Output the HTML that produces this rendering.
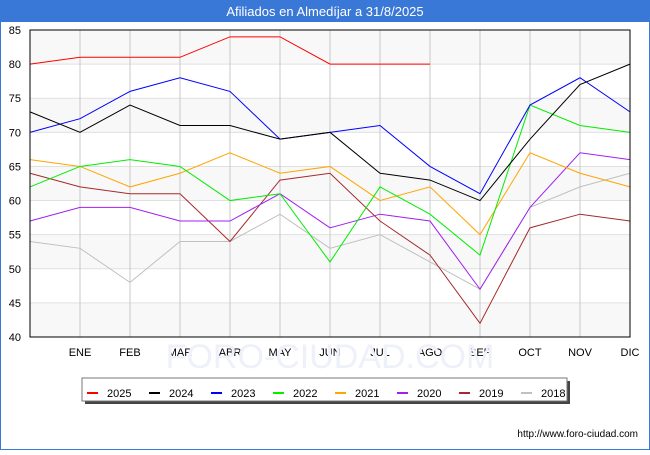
<!DOCTYPE html>
<html><head><meta charset="utf-8"><style>
body{margin:0;width:650px;height:450px;background:#fff;font-family:"Liberation Sans","DejaVu Sans",sans-serif;overflow:hidden}
</style></head><body>
<svg id="c" width="650" height="450" xmlns="http://www.w3.org/2000/svg">
<rect x="0" y="0" width="650" height="450" fill="#fff" stroke="#3a78d8" stroke-width="2"/>
<rect x="0" y="0" width="650" height="22" fill="#3a78d8"/>
<text x="325" y="16" text-anchor="middle" fill="#fff" font-size="13">Afiliados en Almedíjar a 31/8/2025</text>
<g id="plot"></g>
<text x="638" y="437" text-anchor="end" font-size="10" fill="#000">http://www.foro-ciudad.com</text>
</svg>
<script>
const months=["","ENE","FEB","MAR","ABR","MAY","JUN","JUL","AGO","SEP","OCT","NOV","DIC"];
const yTicks=[40,45,50,55,60,65,70,75,80,85];
const years=["2025","2024","2023","2022","2021","2020","2019","2018"];
const colors=["#ff0000","#000000","#0000ff","#00ee00","#ffa500","#a020f0","#a52a2a","#c0c0c0"];
const s2025=[80,81,81,81,84,84,80,80,80];
const s2024=[73,70,74,71,71,69,70,64,63,60,69,77,80];
const s2023=[70,72,76,78,76,69,70,71,65,61,74,78,73];
const s2022=[62,65,66,65,60,61,51,62,58,52,74,71,70];
const s2021=[66,65,62,64,67,64,65,60,62,55,67,64,62];
const s2020=[57,59,59,57,57,61,56,58,57,47,59,67,66];
const s2019=[64,62,61,61,54,63,64,57,52,42,56,58,57];
const s2018=[54,53,48,54,54,58,53,55,51,47,59,62,64];
const series=[s2025,s2024,s2023,s2022,s2021,s2020,s2019,s2018];
const NS="http://www.w3.org/2000/svg";
const L=30,R=630,T=30,B=337,ymin=40,ymax=85;
const X=i=>L+(R-L)*i/(months.length-1);
const Y=v=>B-(v-ymin)/(ymax-ymin)*(B-T);
const g=document.getElementById('plot');
function mk(t,a){const e=document.createElementNS(NS,t);for(const k in a)e.setAttribute(k,a[k]);g.appendChild(e);return e;}
for(let i=0;i<yTicks.length-1;i++){
  if((yTicks.length-2-i)%2===0){const r=mk('rect',{x:L,y:Y(yTicks[i+1]),width:R-L,height:Y(yTicks[i])-Y(yTicks[i+1]),fill:'#f8f8f8'});
  
  }
}
yTicks.forEach(v=>{
  const l=mk('line',{x1:L,x2:R,y1:Y(v),y2:Y(v),stroke:'#e0e0e0','stroke-width':1});
  
  
  const t=mk('text',{x:L-9,y:Y(v)+4,'text-anchor':'end','font-size':11,fill:'#000'});t.textContent=v;
  
  
});
months.forEach((m,i)=>{
  if(i>0){const l=mk('line',{x1:X(i),x2:X(i),y1:T,y2:B,stroke:'#c8c8c8','stroke-width':1});
  
  }
  const t=mk('text',{x:X(i),y:B+19,'text-anchor':'middle','font-size':11,fill:'#000'});t.textContent=m;
  
  
});
const wm=mk('text',{x:330,y:368,'text-anchor':'middle','font-size':34,fill:'#eef0fa'});wm.textContent='FORO-CIUDAD.COM';


for(let s=series.length-1;s>=0;s--){
  const p=series[s].map((v,i)=>X(i)+','+Y(v)).join(' ');
  const pl=mk('polyline',{points:p,fill:'none',stroke:colors[s],'stroke-width':1});
  
  
}
const ax=mk('rect',{x:L,y:T,width:R-L,height:B-T,fill:'none',stroke:'#000','stroke-width':1});


const sh=mk('rect',{x:85,y:381,width:485,height:23,fill:'#444'});


const lb=mk('rect',{x:82,y:378,width:485,height:23,fill:'#fff',stroke:'#777','stroke-width':1});


years.forEach((y,i)=>{
  const x0=87+i*62;
  const sw=mk('rect',{x:x0,y:392,width:11,height:2,fill:colors[i]});
  
  
  const t=mk('text',{x:x0+20,y:397,'font-size':11,fill:'#000'});t.textContent=y;
  
  
});
</script>
</body></html>
